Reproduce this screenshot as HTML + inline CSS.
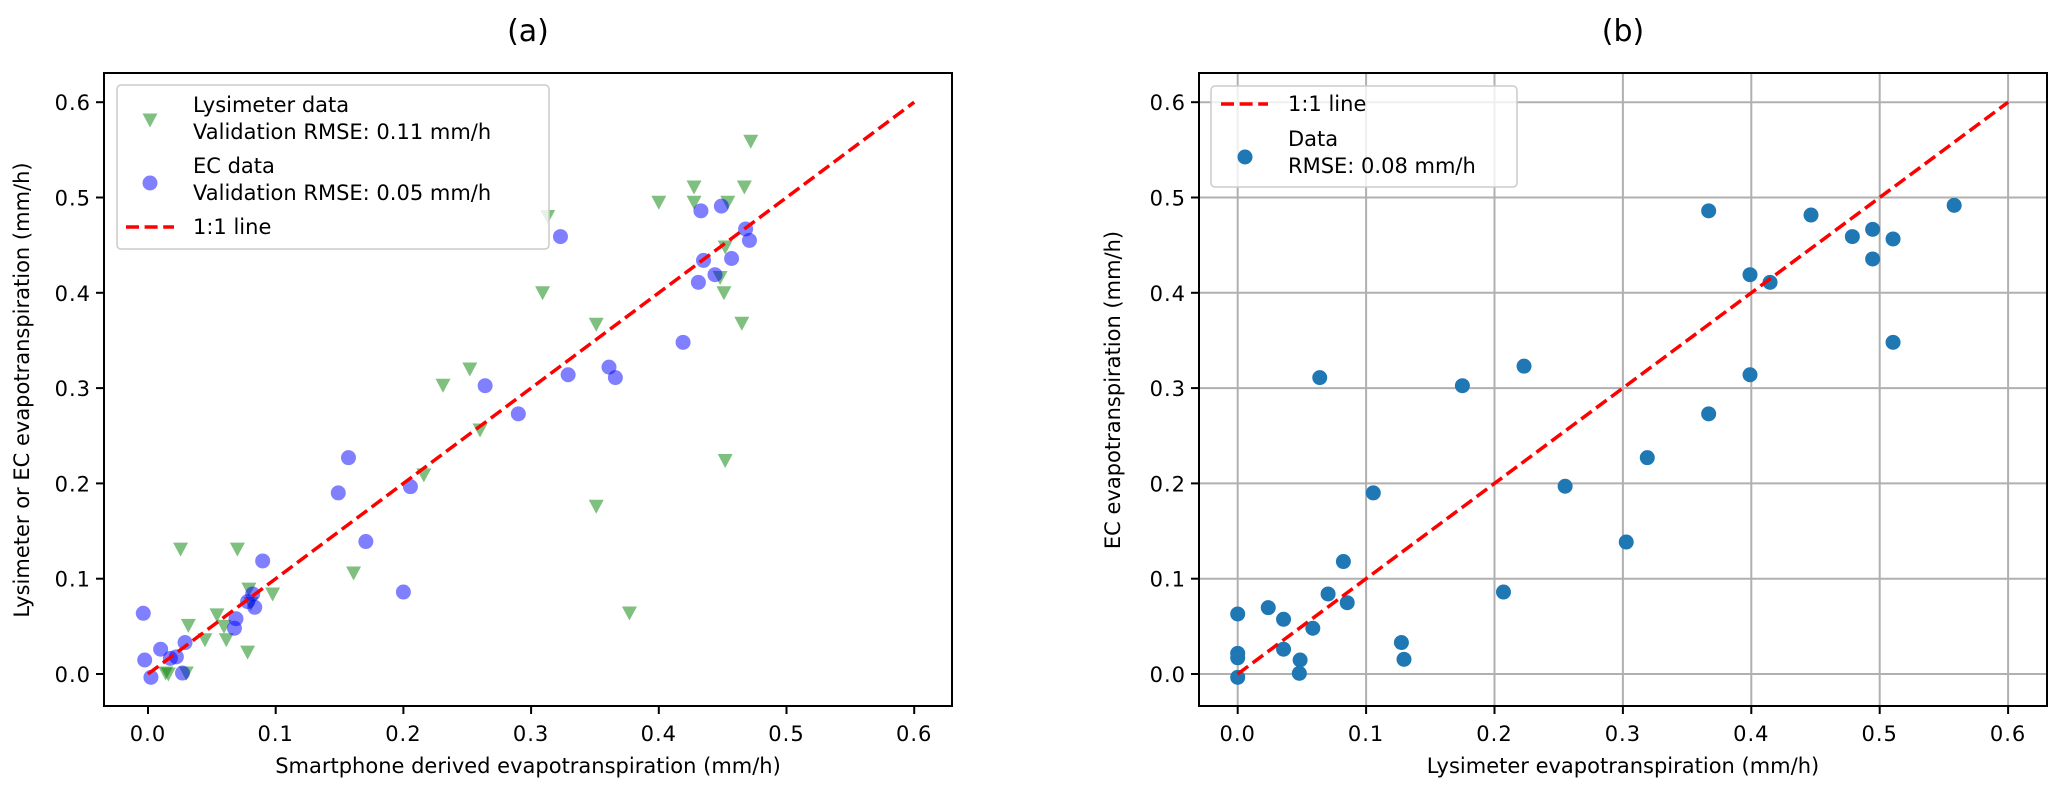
<!DOCTYPE html>
<html><head><meta charset="utf-8"><style>
html,body{margin:0;padding:0;background:#fff;}
svg{display:block;font-family:"DejaVu Sans","Liberation Sans",sans-serif;}
</style></head><body>
<svg id="fig" width="2067" height="790" viewBox="0 0 2067 790" xmlns="http://www.w3.org/2000/svg">
<rect width="2067" height="790" fill="#fff"/>
</svg>
<script>
// Panel (a) data
const lysX=[0.472,0.4276,0.467,0.40,0.4276,0.454,0.313,0.452,0.448,0.451,0.309,0.351,0.465,0.252,0.231,0.26,0.216,0.452,0.351,0.0255,0.07,0.079,0.0976,0.0805,0.054,0.0316,0.0595,0.0446,0.0613,0.078,0.0138,0.0159,0.03,0.161,0.377];
const lysY=[0.559,0.511,0.511,0.495,0.495,0.495,0.48,0.448,0.416,0.40,0.40,0.367,0.368,0.32,0.303,0.256,0.209,0.224,0.176,0.131,0.131,0.089,0.084,0.074,0.062,0.051,0.05,0.036,0.036,0.023,0.001,0.0,0.001,0.106,0.064];
const ecX=[0.433,0.449,0.468,0.471,0.323,0.435,0.457,0.444,0.431,0.419,0.361,0.366,0.329,0.264,0.29,0.157,0.149,0.2055,0.1706,0.2,0.0898,-0.0037,0.082,0.078,0.0836,0.0689,0.0677,0.029,0.0099,-0.0026,0.0175,0.0222,0.0023,0.027];
const ecY=[0.486,0.491,0.467,0.455,0.459,0.434,0.436,0.419,0.411,0.348,0.322,0.311,0.314,0.3025,0.273,0.227,0.19,0.1966,0.139,0.086,0.1186,0.0637,0.084,0.076,0.07,0.058,0.048,0.033,0.026,0.0147,0.0164,0.018,-0.0035,0.001];
// Panel (b) data
const bX=[0,0,0,0,0.0238,0.0357,0.0357,0.0486,0.048,0.0585,0.0704,0.0853,0.0823,0.1275,0.1295,0.207,0.3026,0.0639,0.175,0.223,0.255,0.1056,0.3668,0.4465,0.558,0.4787,0.4945,0.5104,0.4945,0.399,0.4146,0.5104,0.399,0.3668,0.319];
const bY=[0.063,0.0217,0.017,-0.0035,0.0696,0.0574,0.026,0.0147,0.0007,0.048,0.084,0.0748,0.118,0.033,0.0154,0.086,0.1385,0.311,0.3025,0.323,0.197,0.19,0.486,0.4816,0.4918,0.459,0.4666,0.4565,0.4355,0.419,0.411,0.348,0.314,0.273,0.227];
const ticks=[0,0.1,0.2,0.3,0.4,0.5,0.6];
const tickLabels=["0.0","0.1","0.2","0.3","0.4","0.5","0.6"];
const oneToOne=[0,0.6];

const NS="http://www.w3.org/2000/svg";
const svg=document.getElementById('fig');
function el(tag,attrs,parent){const e=document.createElementNS(NS,tag);for(const k in attrs)e.setAttribute(k,attrs[k]);(parent||svg).appendChild(e);return e;}
function txt(s,attrs,parent){const e=el('text',attrs,parent);e.textContent=s;return e;}

function panel(cfg){
  const g=el('g',{});
  
  
  const L=cfg.left,R=cfg.right,T=73,B=706;
  const sx=v=>cfg.x0+v*cfg.xs;
  const sy=v=>674-v*953;
  if(cfg.grid){
    ticks.forEach(t=>{
      const gl=el('line',{x1:sx(t),x2:sx(t),y1:T,y2:B,stroke:'#b0b0b0','stroke-width':2},g);
      
      
      const gh=el('line',{x1:L,x2:R,y1:sy(t),y2:sy(t),stroke:'#b0b0b0','stroke-width':2},g);
      
      
    });
  }
  cfg.draw(g,sx,sy);
  const ln=el('line',{x1:sx(oneToOne[0]),y1:sy(oneToOne[0]),x2:sx(oneToOne[1]),y2:sy(oneToOne[1]),stroke:'#ff0000','stroke-width':3.5,'stroke-dasharray':'13 5.6'},g);
  
  
  const fr=el('rect',{x:L,y:T,width:R-L,height:B-T,fill:'none',stroke:'#000','stroke-width':2},g);
  
  
  ticks.forEach((t,i)=>{
    el('line',{x1:sx(t),x2:sx(t),y1:B,y2:B+8,stroke:'#000','stroke-width':2},g);
    const xl=txt(tickLabels[i],{x:sx(t),y:741,'text-anchor':'middle','font-size':21,'letter-spacing':1,fill:'#000'},g);
    
    
    el('line',{x1:L-8,x2:L,y1:sy(t),y2:sy(t),stroke:'#000','stroke-width':2},g);
    const yl=txt(tickLabels[i],{x:L-13,y:sy(t)+8,'text-anchor':'end','font-size':21,'letter-spacing':1,fill:'#000'},g);
    
    
  });
  const xt=txt(cfg.xlabel,{x:(L+R)/2,y:773,'text-anchor':'middle','font-size':21,fill:'#000'},g);
  
  
  const yt=txt(cfg.ylabel,{x:0,y:0,'text-anchor':'middle','font-size':21,fill:'#000',transform:`translate(${cfg.ylx},390) rotate(-90)`},g);
  
  
  const tt=txt(cfg.title,{x:(L+R)/2,y:41,'text-anchor':'middle','font-size':30,fill:'#000'},g);
  
  
  cfg.legend(g);
}
function tri(x,y,parent){
  return el('path',{d:`M${x-7.5},${y-6.5} L${x+7.5},${y-6.5} L${x},${y+7.5} Z`,fill:'#008000','fill-opacity':0.5},parent);
}

panel({name:'panel-a',left:104,right:952,x0:148,xs:1277,title:'(a)',
  xlabel:'Smartphone derived evapotranspiration (mm/h)',ylabel:'Lysimeter or EC evapotranspiration (mm/h)',ylx:29,grid:false,
  draw:(g,sx,sy)=>{
    lysX.forEach((v,i)=>{
      const m=tri(sx(v),sy(lysY[i]),g);
      
      
    });
    ecX.forEach((v,i)=>{
      const c=el('circle',{cx:sx(v),cy:sy(ecY[i]),r:7.5,fill:'#0000ff','fill-opacity':0.5},g);
      
      
    });
  },
  legend:(g)=>{
    const lg=el('g',{},g);
    
    
    el('rect',{x:117,y:85,width:432,height:164,rx:4,fill:'#fff','fill-opacity':0.8,stroke:'#cccccc','stroke-width':1.5},lg);
    tri(150,120,lg);
    txt('Lysimeter data',{x:193,y:112,'font-size':21},lg);
    txt('Validation RMSE: 0.11 mm/h',{x:193,y:139,'font-size':21},lg);
    el('circle',{cx:150,cy:183,r:7.5,fill:'#0000ff','fill-opacity':0.5},lg);
    txt('EC data',{x:193,y:173,'font-size':21},lg);
    txt('Validation RMSE: 0.05 mm/h',{x:193,y:200,'font-size':21},lg);
    el('line',{x1:126,x2:174,y1:227,y2:227,stroke:'#ff0000','stroke-width':3.5,'stroke-dasharray':'13 5.6'},lg);
    txt('1:1 line',{x:193,y:234,'font-size':21},lg);
  }
});

panel({name:'panel-b',left:1199,right:2047,x0:1237.7,xs:1284,title:'(b)',
  xlabel:'Lysimeter evapotranspiration (mm/h)',ylabel:'EC evapotranspiration (mm/h)',ylx:1120,grid:true,
  draw:(g,sx,sy)=>{
    bX.forEach((v,i)=>{
      const c=el('circle',{cx:sx(v),cy:sy(bY[i]),r:7.5,fill:'#1f77b4'},g);
      
      
    });
  },
  legend:(g)=>{
    const lg=el('g',{},g);
    
    
    el('rect',{x:1211,y:86,width:306,height:101,rx:4,fill:'#fff','fill-opacity':0.8,stroke:'#cccccc','stroke-width':1.5},lg);
    el('line',{x1:1221,x2:1268,y1:104,y2:104,stroke:'#ff0000','stroke-width':3.5,'stroke-dasharray':'13 5.6'},lg);
    txt('1:1 line',{x:1288,y:111,'font-size':21},lg);
    el('circle',{cx:1245,cy:157,r:7.5,fill:'#1f77b4'},lg);
    txt('Data',{x:1288,y:146,'font-size':21},lg);
    txt('RMSE: 0.08 mm/h',{x:1288,y:173,'font-size':21},lg);
  }
});
</script>
</body></html>
